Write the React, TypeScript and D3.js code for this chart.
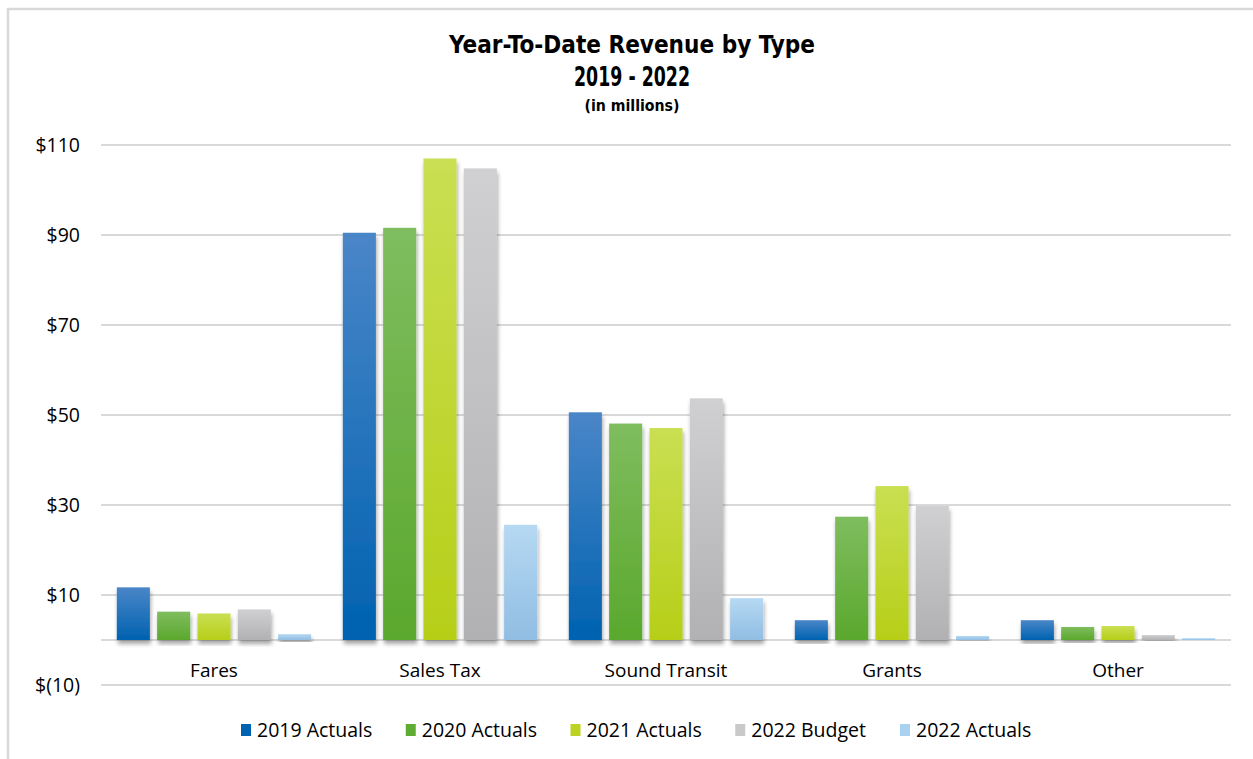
import React from 'react'
import * as d3 from 'd3'

const categories = ['Fares', 'Sales Tax', 'Sound Transit', 'Grants', 'Other']
const seriesNames = ['2019 Actuals', '2020 Actuals', '2021 Actuals', '2022 Budget', '2022 Actuals']

const actuals2019 = [11.7, 90.5, 50.6, 4.4, 4.4]
const actuals2020 = [6.3, 91.6, 48.1, 27.4, 2.9]
const actuals2021 = [5.9, 107.0, 47.1, 34.2, 3.1]
const budget2022 = [6.8, 104.8, 53.7, 29.8, 1.1]
const actuals2022 = [1.3, 25.6, 9.3, 0.9, 0.4]

const yTicks = [-10, 10, 30, 50, 70, 90, 110]

const seriesValues = [actuals2019, actuals2020, actuals2021, budget2022, actuals2022]

// gradient top / bottom per series, plus legend swatch
const colors = [
  { top: '#4a86c8', bottom: '#0062b0', swatch: '#0063b1' },
  { top: '#7fbd5f', bottom: '#5aa82d', swatch: '#5fac32' },
  { top: '#cadf52', bottom: '#b6cf18', swatch: '#bcd421' },
  { top: '#d0d0d2', bottom: '#b1b1b3', swatch: '#c9c9c9' },
  { top: '#b6d9f3', bottom: '#90bde2', swatch: '#a9d2f0' },
]

const fontFamily = '"Open Sans", "Noto Sans", sans-serif'
const titleFont = '"Liberation Sans Narrow", "DejaVu Sans Condensed", sans-serif'

export default function App() {
  const width = 1253
  const height = 759
  const plot = { left: 101, right: 1231 }

  const y = d3.scaleLinear().domain([-10, 110]).range([685, 145])
  const x0 = d3.scaleBand<string>()
    .domain(categories)
    .range([plot.left, plot.right])
    .paddingInner(0.14)
    .paddingOuter(0.07)
  const x1 = d3.scaleBand<string>()
    .domain(seriesNames)
    .range([0, x0.bandwidth()])
    .paddingInner(0.18)

  const fmt = (v: number) => (v < 0 ? `$(${Math.abs(v)})` : `$${v}`)

  const legendX = d3.scalePoint<string>()
    .domain(seriesNames)
    .range([241, 900])

  return (
    <svg width={width} height={height} style={{ position: 'absolute', left: 0, top: 0, background: '#fff' }}>
      <defs>
        {colors.map((c, i) => (
          <linearGradient key={i} id={`grad${i}`} x1="0" y1="0" x2="0" y2="1">
            <stop offset="0%" stopColor={c.top} />
            <stop offset="100%" stopColor={c.bottom} />
          </linearGradient>
        ))}
        <filter id="shadow" x="-20%" y="-20%" width="140%" height="140%">
          <feGaussianBlur in="SourceAlpha" stdDeviation="2" />
          <feOffset dx="1" dy="4" result="off" />
          <feComponentTransfer>
            <feFuncA type="linear" slope="0.35" />
          </feComponentTransfer>
          <feMerge>
            <feMergeNode />
            <feMergeNode in="SourceGraphic" />
          </feMerge>
        </filter>
      </defs>

      {/* frame */}
      <line x1={8} x2={width} y1={9} y2={9} stroke="#d9d9d9" strokeWidth={2.5} />
      <line x1={8} x2={8} y1={8} y2={height} stroke="#d9d9d9" strokeWidth={2.5} />

      {/* titles */}
      <text x={632} y={53} textAnchor="middle" fontFamily={titleFont} fontWeight="bold" fontSize={25}
        textLength={366} lengthAdjust="spacingAndGlyphs" fill="#000">
        Year-To-Date Revenue by Type
      </text>
      <text x={632} y={86} textAnchor="middle" fontFamily={titleFont} fontWeight="bold" fontSize={26}
        textLength={116} lengthAdjust="spacingAndGlyphs" fill="#000">
        2019 - 2022
      </text>
      <text x={632} y={111} textAnchor="middle" fontFamily={titleFont} fontWeight="bold" fontSize={16}
        textLength={95} lengthAdjust="spacingAndGlyphs" fill="#000">
        (in millions)
      </text>

      {/* gridlines + y labels */}
      {yTicks.map(t => (
        <g key={t}>
          <line x1={plot.left} x2={plot.right} y1={y(t)} y2={y(t)} stroke="#d9d9d9" strokeWidth={2} />
          <text x={80} y={y(t)} dy="0.35em" textAnchor="end" fontFamily={fontFamily} fontSize={19.5} fill="#000">
            {fmt(t)}
          </text>
        </g>
      ))}
      <line x1={plot.left} x2={plot.right} y1={y(0)} y2={y(0)} stroke="#d9d9d9" strokeWidth={2} />

      {/* bars */}
      {categories.map((cat, ci) => (
        <g key={cat} transform={`translate(${x0(cat)},0)`}>
          {seriesNames.map((s, si) => {
            const v = seriesValues[si][ci]
            return (
              <rect
                key={s}
                x={x1(s)}
                y={y(Math.max(0, v))}
                width={x1.bandwidth()}
                height={Math.abs(y(v) - y(0))}
                fill={`url(#grad${si})`}
                filter="url(#shadow)"
              />
            )
          })}
          <text x={x0.bandwidth() / 2} y={677} textAnchor="middle" fontFamily={fontFamily} fontSize={19} fill="#000">
            {cat}
          </text>
        </g>
      ))}

      {/* legend */}
      {seriesNames.map((s, i) => (
        <g key={s} transform={`translate(${legendX(s)},730)`}>
          <rect x={0} y={-6} width={10} height={12} fill={colors[i].swatch} />
          <text x={16} y={0} dy="0.35em" fontFamily={fontFamily} fontSize={19.5} fill="#000">{s}</text>
        </g>
      ))}
    </svg>
  )
}
